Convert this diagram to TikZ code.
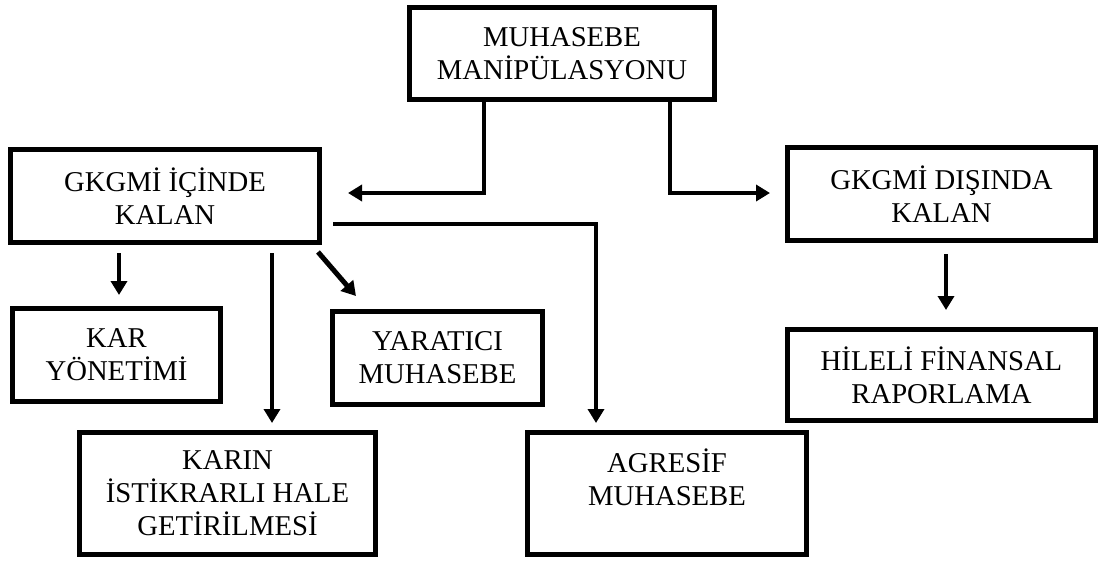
\documentclass[tikz,border=0pt]{standalone}
\usepackage{fontspec}
\setmainfont{Liberation Serif}
\usetikzlibrary{arrows.meta,calc}
\begin{document}
\begin{tikzpicture}[x=1pt,y=-1pt,
  box/.style={draw=black,line width=5pt,fill=white,align=center,inner sep=0pt,
    font=\fontsize{28.7}{33}\selectfont},
  conn/.style={line width=4pt,line join=miter,-{Triangle[length=14pt,width=16pt]}}]
\useasboundingbox (0,0) rectangle (1100,565);
% nodes: centers and minimum sizes derived from outer extents
\node[box,minimum width=305pt,minimum height=92pt] (manip) at (562,53.5) {MUHASEBE\\MANİPÜLASYONU};
\node[box,minimum width=309pt,minimum height=93pt] (icinde) at (165,196) {GKGMİ İÇİNDE\\KALAN};
\node[box,minimum width=308pt,minimum height=93pt] (disinda) at (941.5,194) {GKGMİ DIŞINDA\\KALAN};
\node[box,minimum width=208pt,minimum height=93pt] (kar) at (116.5,355) {KAR\\YÖNETİMİ};
\node[box,minimum width=210pt,minimum height=93pt] (yar) at (437.5,358) {YARATICI\\MUHASEBE};
\node[box,minimum width=308pt,minimum height=91pt] (hileli) at (941.5,375) {HİLELİ FİNANSAL\\RAPORLAMA};
\node[box,minimum width=296pt,minimum height=122pt] (karin) at (227.5,493.5) {KARIN\\İSTİKRARLI HALE\\GETİRİLMESİ};
\node[box,minimum width=279pt,minimum height=122pt] (agr) at (667,493.5) {AGRESİF\\MUHASEBE\\\mbox{}};
% double bottom line of YARATICI box
\draw[line width=1pt] ($(yar.south west)+(0,-5)$) -- ($(yar.south east)+(0,-5)$);
% named free ends / bend points
\coordinate (m1) at (484,102);
\coordinate (b1) at (484,193);
\coordinate (t1) at (348,193);
\coordinate (m2) at (670,102);
\coordinate (b2) at (670,193);
\coordinate (t2) at (770,193);
\coordinate (s3) at (333,224);
\coordinate (b3) at (596,224);
\coordinate (t3) at (596,423);
\coordinate (s4) at (119,253);
\coordinate (t4) at (119,295);
\coordinate (s5) at (272,253);
\coordinate (t5) at (272,423);
\coordinate (s6) at (318,252);
\coordinate (t6) at (356,296);
\coordinate (s7) at (946,254);
\coordinate (t7) at (946,310);
% connectors
\draw[conn] (m1) -- (b1) -- (t1);
\draw[conn] (m2) -- (b2) -- (t2);
\draw[conn] (s3) -- (b3) -- (t3);
\draw[conn] (s4) -- (t4);
\draw[conn] (s5) -- (t5);
\draw[conn,line width=5pt] (s6) -- (t6);
\draw[conn] (s7) -- (t7);
\end{tikzpicture}
\end{document}
